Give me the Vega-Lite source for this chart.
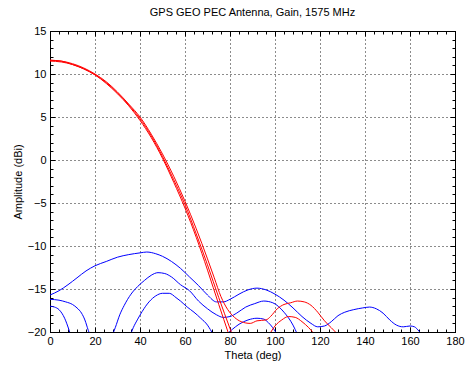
{
  "$schema": "https://vega.github.io/schema/vega-lite/v6.json",
  "width": 405,
  "height": 301,
  "autosize": "none",
  "padding": {"left": 50, "top": 31, "right": 10, "bottom": 35},
  "background": "white",
  "title": {"text": "GPS GEO PEC Antenna, Gain, 1575 MHz", "fontSize": 11, "fontWeight": "normal", "font": "Liberation Sans", "offset": 7, "color": "black"},
  "config": {
    "view": {"stroke": "black", "strokeWidth": 1},
    "axis": {"domainColor": "black", "tickColor": "black", "labelColor": "black", "titleColor": "black", "labelFont": "Liberation Sans", "titleFont": "Liberation Sans", "labelFontSize": 11, "titleFontSize": 11, "titleFontWeight": "normal"}
  },
  "data": {"values": [
    {"curve": "b1", "pol": "cross", "theta": 0, "amp": -15.7},
    {"curve": "b1", "pol": "cross", "theta": 4, "amp": -15.2},
    {"curve": "b1", "pol": "cross", "theta": 8, "amp": -14.5},
    {"curve": "b1", "pol": "cross", "theta": 12, "amp": -13.7},
    {"curve": "b1", "pol": "cross", "theta": 16, "amp": -12.9},
    {"curve": "b1", "pol": "cross", "theta": 20, "amp": -12.3},
    {"curve": "b1", "pol": "cross", "theta": 25, "amp": -11.8},
    {"curve": "b1", "pol": "cross", "theta": 30, "amp": -11.3},
    {"curve": "b1", "pol": "cross", "theta": 35, "amp": -11.0},
    {"curve": "b1", "pol": "cross", "theta": 40, "amp": -10.8},
    {"curve": "b1", "pol": "cross", "theta": 43, "amp": -10.7},
    {"curve": "b1", "pol": "cross", "theta": 47, "amp": -10.9},
    {"curve": "b1", "pol": "cross", "theta": 50, "amp": -11.2},
    {"curve": "b1", "pol": "cross", "theta": 54, "amp": -11.8},
    {"curve": "b1", "pol": "cross", "theta": 58, "amp": -12.6},
    {"curve": "b1", "pol": "cross", "theta": 62, "amp": -13.6},
    {"curve": "b1", "pol": "cross", "theta": 66, "amp": -14.6},
    {"curve": "b1", "pol": "cross", "theta": 70, "amp": -15.7},
    {"curve": "b1", "pol": "cross", "theta": 74, "amp": -16.5},
    {"curve": "b1", "pol": "cross", "theta": 77, "amp": -16.5},
    {"curve": "b1", "pol": "cross", "theta": 80, "amp": -16.2},
    {"curve": "b1", "pol": "cross", "theta": 84, "amp": -15.6},
    {"curve": "b1", "pol": "cross", "theta": 88, "amp": -15.1},
    {"curve": "b1", "pol": "cross", "theta": 92, "amp": -14.9},
    {"curve": "b1", "pol": "cross", "theta": 96, "amp": -15.1},
    {"curve": "b1", "pol": "cross", "theta": 100, "amp": -15.6},
    {"curve": "b1", "pol": "cross", "theta": 104, "amp": -16.3},
    {"curve": "b1", "pol": "cross", "theta": 108, "amp": -17.2},
    {"curve": "b1", "pol": "cross", "theta": 112, "amp": -18.2},
    {"curve": "b1", "pol": "cross", "theta": 116, "amp": -19.0},
    {"curve": "b1", "pol": "cross", "theta": 119, "amp": -19.4},
    {"curve": "b1", "pol": "cross", "theta": 122, "amp": -19.3},
    {"curve": "b1", "pol": "cross", "theta": 125, "amp": -18.8},
    {"curve": "b1", "pol": "cross", "theta": 128, "amp": -18.1},
    {"curve": "b1", "pol": "cross", "theta": 131, "amp": -17.7},
    {"curve": "b1", "pol": "cross", "theta": 135, "amp": -17.4},
    {"curve": "b1", "pol": "cross", "theta": 139, "amp": -17.2},
    {"curve": "b1", "pol": "cross", "theta": 142, "amp": -17.1},
    {"curve": "b1", "pol": "cross", "theta": 145, "amp": -17.3},
    {"curve": "b1", "pol": "cross", "theta": 148, "amp": -17.8},
    {"curve": "b1", "pol": "cross", "theta": 151, "amp": -18.6},
    {"curve": "b1", "pol": "cross", "theta": 154, "amp": -19.2},
    {"curve": "b1", "pol": "cross", "theta": 157, "amp": -19.4},
    {"curve": "b1", "pol": "cross", "theta": 160, "amp": -19.3},
    {"curve": "b1", "pol": "cross", "theta": 162, "amp": -19.4},
    {"curve": "b1", "pol": "cross", "theta": 164, "amp": -19.9},
    {"curve": "b1", "pol": "cross", "theta": 166, "amp": -20.5},

    {"curve": "b2a", "pol": "cross", "theta": 0, "amp": -16.2},
    {"curve": "b2a", "pol": "cross", "theta": 4, "amp": -16.3},
    {"curve": "b2a", "pol": "cross", "theta": 7, "amp": -16.5},
    {"curve": "b2a", "pol": "cross", "theta": 10, "amp": -16.8},
    {"curve": "b2a", "pol": "cross", "theta": 12, "amp": -17.2},
    {"curve": "b2a", "pol": "cross", "theta": 14, "amp": -17.8},
    {"curve": "b2a", "pol": "cross", "theta": 15.5, "amp": -18.6},
    {"curve": "b2a", "pol": "cross", "theta": 17, "amp": -19.8},
    {"curve": "b2a", "pol": "cross", "theta": 18, "amp": -20.5},

    {"curve": "b5", "pol": "cross", "theta": 0, "amp": -17.0},
    {"curve": "b5", "pol": "cross", "theta": 2, "amp": -17.1},
    {"curve": "b5", "pol": "cross", "theta": 4, "amp": -17.4},
    {"curve": "b5", "pol": "cross", "theta": 6.5, "amp": -18.4},
    {"curve": "b5", "pol": "cross", "theta": 8.5, "amp": -19.8},
    {"curve": "b5", "pol": "cross", "theta": 9.5, "amp": -20.6},

    {"curve": "b2", "pol": "cross", "theta": 27.5, "amp": -20.5},
    {"curve": "b2", "pol": "cross", "theta": 29, "amp": -19.5},
    {"curve": "b2", "pol": "cross", "theta": 31, "amp": -18.0},
    {"curve": "b2", "pol": "cross", "theta": 33, "amp": -16.9},
    {"curve": "b2", "pol": "cross", "theta": 36, "amp": -15.6},
    {"curve": "b2", "pol": "cross", "theta": 39, "amp": -14.7},
    {"curve": "b2", "pol": "cross", "theta": 42, "amp": -14.0},
    {"curve": "b2", "pol": "cross", "theta": 45, "amp": -13.4},
    {"curve": "b2", "pol": "cross", "theta": 48, "amp": -13.1},
    {"curve": "b2", "pol": "cross", "theta": 51, "amp": -13.2},
    {"curve": "b2", "pol": "cross", "theta": 54, "amp": -13.6},
    {"curve": "b2", "pol": "cross", "theta": 58, "amp": -14.5},
    {"curve": "b2", "pol": "cross", "theta": 62, "amp": -15.2},
    {"curve": "b2", "pol": "cross", "theta": 66, "amp": -16.4},
    {"curve": "b2", "pol": "cross", "theta": 70, "amp": -17.3},
    {"curve": "b2", "pol": "cross", "theta": 74, "amp": -18.0},
    {"curve": "b2", "pol": "cross", "theta": 77, "amp": -18.3},
    {"curve": "b2", "pol": "cross", "theta": 80, "amp": -18.2},
    {"curve": "b2", "pol": "cross", "theta": 83, "amp": -17.8},
    {"curve": "b2", "pol": "cross", "theta": 87, "amp": -17.1},
    {"curve": "b2", "pol": "cross", "theta": 91, "amp": -16.7},
    {"curve": "b2", "pol": "cross", "theta": 95, "amp": -16.4},
    {"curve": "b2", "pol": "cross", "theta": 99, "amp": -16.6},
    {"curve": "b2", "pol": "cross", "theta": 104, "amp": -17.7},
    {"curve": "b2", "pol": "cross", "theta": 108, "amp": -19.2},
    {"curve": "b2", "pol": "cross", "theta": 110, "amp": -20.3},

    {"curve": "b3", "pol": "cross", "theta": 35.5, "amp": -20.5},
    {"curve": "b3", "pol": "cross", "theta": 37, "amp": -19.5},
    {"curve": "b3", "pol": "cross", "theta": 39, "amp": -18.5},
    {"curve": "b3", "pol": "cross", "theta": 41, "amp": -17.6},
    {"curve": "b3", "pol": "cross", "theta": 44, "amp": -16.5},
    {"curve": "b3", "pol": "cross", "theta": 47, "amp": -15.8},
    {"curve": "b3", "pol": "cross", "theta": 50, "amp": -15.5},
    {"curve": "b3", "pol": "cross", "theta": 53, "amp": -15.5},
    {"curve": "b3", "pol": "cross", "theta": 56, "amp": -16.0},
    {"curve": "b3", "pol": "cross", "theta": 58, "amp": -16.4},
    {"curve": "b3", "pol": "cross", "theta": 61, "amp": -17.1},
    {"curve": "b3", "pol": "cross", "theta": 64, "amp": -17.7},
    {"curve": "b3", "pol": "cross", "theta": 67, "amp": -18.4},
    {"curve": "b3", "pol": "cross", "theta": 70, "amp": -19.2},
    {"curve": "b3", "pol": "cross", "theta": 72.5, "amp": -20.3},

    {"curve": "b4", "pol": "cross", "theta": 78, "amp": -20.4},
    {"curve": "b4", "pol": "cross", "theta": 81, "amp": -19.7},
    {"curve": "b4", "pol": "cross", "theta": 84, "amp": -19.1},
    {"curve": "b4", "pol": "cross", "theta": 88, "amp": -18.6},
    {"curve": "b4", "pol": "cross", "theta": 92, "amp": -18.4},
    {"curve": "b4", "pol": "cross", "theta": 95, "amp": -18.5},
    {"curve": "b4", "pol": "cross", "theta": 97, "amp": -18.9},
    {"curve": "b4", "pol": "cross", "theta": 99, "amp": -19.5},
    {"curve": "b4", "pol": "cross", "theta": 101, "amp": -20.3},

    {"curve": "r1", "pol": "co", "theta": 0, "amp": 11.6},
    {"curve": "r1", "pol": "co", "theta": 5, "amp": 11.5},
    {"curve": "r1", "pol": "co", "theta": 10, "amp": 11.1},
    {"curve": "r1", "pol": "co", "theta": 15, "amp": 10.6},
    {"curve": "r1", "pol": "co", "theta": 20, "amp": 9.9},
    {"curve": "r1", "pol": "co", "theta": 25, "amp": 8.9},
    {"curve": "r1", "pol": "co", "theta": 30, "amp": 7.7},
    {"curve": "r1", "pol": "co", "theta": 35, "amp": 6.3},
    {"curve": "r1", "pol": "co", "theta": 40, "amp": 4.6},
    {"curve": "r1", "pol": "co", "theta": 45, "amp": 2.6},
    {"curve": "r1", "pol": "co", "theta": 50, "amp": 0.2},
    {"curve": "r1", "pol": "co", "theta": 55, "amp": -2.6},
    {"curve": "r1", "pol": "co", "theta": 60, "amp": -5.6},
    {"curve": "r1", "pol": "co", "theta": 65, "amp": -9.0},
    {"curve": "r1", "pol": "co", "theta": 70, "amp": -12.8},
    {"curve": "r1", "pol": "co", "theta": 75, "amp": -16.8},
    {"curve": "r1", "pol": "co", "theta": 79.5, "amp": -20.3},

    {"curve": "r2", "pol": "co", "theta": 0, "amp": 11.5},
    {"curve": "r2", "pol": "co", "theta": 5, "amp": 11.4},
    {"curve": "r2", "pol": "co", "theta": 10, "amp": 11.1},
    {"curve": "r2", "pol": "co", "theta": 15, "amp": 10.6},
    {"curve": "r2", "pol": "co", "theta": 20, "amp": 9.9},
    {"curve": "r2", "pol": "co", "theta": 25, "amp": 9.0},
    {"curve": "r2", "pol": "co", "theta": 30, "amp": 7.8},
    {"curve": "r2", "pol": "co", "theta": 35, "amp": 6.4},
    {"curve": "r2", "pol": "co", "theta": 40, "amp": 4.8},
    {"curve": "r2", "pol": "co", "theta": 45, "amp": 2.8},
    {"curve": "r2", "pol": "co", "theta": 50, "amp": 0.4},
    {"curve": "r2", "pol": "co", "theta": 55, "amp": -2.3},
    {"curve": "r2", "pol": "co", "theta": 60, "amp": -5.2},
    {"curve": "r2", "pol": "co", "theta": 65, "amp": -8.6},
    {"curve": "r2", "pol": "co", "theta": 70, "amp": -12.2},
    {"curve": "r2", "pol": "co", "theta": 75, "amp": -16.0},
    {"curve": "r2", "pol": "co", "theta": 80, "amp": -19.6},
    {"curve": "r2", "pol": "co", "theta": 82, "amp": -21.0},

    {"curve": "r2b", "pol": "co", "theta": 97.5, "amp": -20.3},
    {"curve": "r2b", "pol": "co", "theta": 100, "amp": -19.3},
    {"curve": "r2b", "pol": "co", "theta": 103, "amp": -18.6},
    {"curve": "r2b", "pol": "co", "theta": 106, "amp": -18.2},
    {"curve": "r2b", "pol": "co", "theta": 109, "amp": -18.3},
    {"curve": "r2b", "pol": "co", "theta": 112, "amp": -18.8},
    {"curve": "r2b", "pol": "co", "theta": 115, "amp": -19.5},
    {"curve": "r2b", "pol": "co", "theta": 118, "amp": -20.4},

    {"curve": "r3", "pol": "co", "theta": 0, "amp": 11.6},
    {"curve": "r3", "pol": "co", "theta": 5, "amp": 11.5},
    {"curve": "r3", "pol": "co", "theta": 10, "amp": 11.2},
    {"curve": "r3", "pol": "co", "theta": 15, "amp": 10.7},
    {"curve": "r3", "pol": "co", "theta": 20, "amp": 10.0},
    {"curve": "r3", "pol": "co", "theta": 25, "amp": 9.1},
    {"curve": "r3", "pol": "co", "theta": 30, "amp": 7.9},
    {"curve": "r3", "pol": "co", "theta": 35, "amp": 6.5},
    {"curve": "r3", "pol": "co", "theta": 40, "amp": 5.0},
    {"curve": "r3", "pol": "co", "theta": 45, "amp": 3.0},
    {"curve": "r3", "pol": "co", "theta": 50, "amp": 0.7},
    {"curve": "r3", "pol": "co", "theta": 55, "amp": -1.9},
    {"curve": "r3", "pol": "co", "theta": 60, "amp": -4.8},
    {"curve": "r3", "pol": "co", "theta": 65, "amp": -8.0},
    {"curve": "r3", "pol": "co", "theta": 70, "amp": -11.5},
    {"curve": "r3", "pol": "co", "theta": 73, "amp": -13.7},
    {"curve": "r3", "pol": "co", "theta": 76, "amp": -15.9},
    {"curve": "r3", "pol": "co", "theta": 79, "amp": -17.4},
    {"curve": "r3", "pol": "co", "theta": 82, "amp": -18.3},
    {"curve": "r3", "pol": "co", "theta": 85, "amp": -18.8},
    {"curve": "r3", "pol": "co", "theta": 89, "amp": -19.0},
    {"curve": "r3", "pol": "co", "theta": 92, "amp": -18.7},
    {"curve": "r3", "pol": "co", "theta": 96, "amp": -18.6},
    {"curve": "r3", "pol": "co", "theta": 98, "amp": -18.2},
    {"curve": "r3", "pol": "co", "theta": 101, "amp": -17.3},
    {"curve": "r3", "pol": "co", "theta": 104, "amp": -16.8},
    {"curve": "r3", "pol": "co", "theta": 107, "amp": -16.6},
    {"curve": "r3", "pol": "co", "theta": 110, "amp": -16.4},
    {"curve": "r3", "pol": "co", "theta": 113, "amp": -16.5},
    {"curve": "r3", "pol": "co", "theta": 116, "amp": -16.9},
    {"curve": "r3", "pol": "co", "theta": 119, "amp": -17.7},
    {"curve": "r3", "pol": "co", "theta": 122, "amp": -18.7},
    {"curve": "r3", "pol": "co", "theta": 125, "amp": -19.5},
    {"curve": "r3", "pol": "co", "theta": 128, "amp": -20.3}
  ]},
  "layer": [
    {
      "mark": {"type": "line", "clip": true, "strokeWidth": 1, "interpolate": "monotone"},
      "encoding": {
        "x": {"field": "theta", "type": "quantitative", "scale": {"domain": [0, 180], "nice": false, "zero": false},
              "axis": {"orient": "bottom", "values": [0, 20, 40, 60, 80, 100, 120, 140, 160, 180], "grid": true, "gridDash": [1, 3], "gridColor": "black", "gridOpacity": 0.9, "tickSize": -5, "labelPadding": 8, "labelFlush": false, "title": "Theta (deg)", "titlePadding": 3}},
        "y": {"field": "amp", "type": "quantitative", "scale": {"domain": [-20, 15], "nice": false, "zero": false},
              "axis": {"orient": "left", "values": [-20, -15, -10, -5, 0, 5, 10, 15], "grid": true, "gridDash": [1, 3], "gridColor": "black", "gridOpacity": 0.9, "tickSize": -5, "labelPadding": 9, "title": "Amplitude (dBi)", "titlePadding": 4}},
        "color": {"field": "pol", "type": "nominal", "scale": {"domain": ["cross", "co"], "range": ["#0000ff", "#ff0000"]}, "legend": null},
        "detail": {"field": "curve", "type": "nominal"}
      }
    },
    {
      "mark": {"type": "line", "opacity": 0},
      "encoding": {
        "x": {"field": "theta", "type": "quantitative",
              "axis": {"orient": "bottom", "values": [0,4,8,12,16,20,24,28,32,36,40,44,48,52,56,60,64,68,72,76,80,84,88,92,96,100,104,108,112,116,120,124,128,132,136,140,144,148,152,156,160,164,168,172,176,180], "labels": false, "grid": false, "domain": false, "tickSize": -3, "title": null}},
        "y": {"field": "amp", "type": "quantitative",
              "axis": {"orient": "left", "values": [-20,-19,-18,-17,-16,-15,-14,-13,-12,-11,-10,-9,-8,-7,-6,-5,-4,-3,-2,-1,0,1,2,3,4,5,6,7,8,9,10,11,12,13,14,15], "labels": false, "grid": false, "domain": false, "tickSize": -3, "title": null}},
        "detail": {"field": "curve", "type": "nominal"}
      }
    },
    {
      "mark": {"type": "line", "opacity": 0},
      "encoding": {
        "x": {"field": "theta", "type": "quantitative",
              "axis": {"orient": "top", "values": [0, 20, 40, 60, 80, 100, 120, 140, 160, 180], "labels": false, "grid": false, "tickSize": -5, "title": null}},
        "y": {"field": "amp", "type": "quantitative",
              "axis": {"orient": "right", "values": [-20, -15, -10, -5, 0, 5, 10, 15], "labels": false, "grid": false, "tickSize": -5, "title": null}},
        "detail": {"field": "curve", "type": "nominal"}
      }
    },
    {
      "mark": {"type": "line", "opacity": 0},
      "encoding": {
        "x": {"field": "theta", "type": "quantitative",
              "axis": {"orient": "top", "values": [0,4,8,12,16,20,24,28,32,36,40,44,48,52,56,60,64,68,72,76,80,84,88,92,96,100,104,108,112,116,120,124,128,132,136,140,144,148,152,156,160,164,168,172,176,180], "labels": false, "grid": false, "domain": false, "tickSize": -3, "title": null}},
        "y": {"field": "amp", "type": "quantitative",
              "axis": {"orient": "right", "values": [-20,-19,-18,-17,-16,-15,-14,-13,-12,-11,-10,-9,-8,-7,-6,-5,-4,-3,-2,-1,0,1,2,3,4,5,6,7,8,9,10,11,12,13,14,15], "labels": false, "grid": false, "domain": false, "tickSize": -3, "title": null}},
        "detail": {"field": "curve", "type": "nominal"}
      }
    }
  ],
  "resolve": {"axis": {"x": "independent", "y": "independent"}}
}
